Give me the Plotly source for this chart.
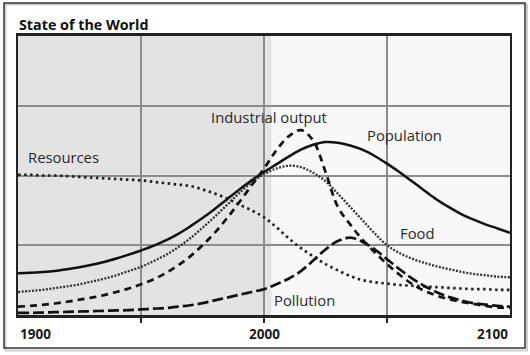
import plotly.graph_objects as go

years = list(range(1900, 2101, 5))

population = [0.60, 0.605, 0.615, 0.63, 0.655, 0.685, 0.72, 0.76, 0.81, 0.865,
              0.925, 0.99, 1.07, 1.16, 1.27, 1.39, 1.52, 1.66, 1.80, 1.93,
              2.05, 2.16, 2.27, 2.37, 2.44, 2.48, 2.47, 2.43, 2.37, 2.28,
              2.17, 2.05, 1.92, 1.79, 1.66, 1.55, 1.45, 1.37, 1.30, 1.24, 1.18]

food = [0.33, 0.345, 0.36, 0.385, 0.41, 0.44, 0.48, 0.52, 0.57, 0.63,
        0.69, 0.77, 0.86, 0.97, 1.10, 1.25, 1.41, 1.58, 1.75, 1.90,
        2.02, 2.10, 2.14, 2.12, 2.04, 1.92, 1.74, 1.55, 1.36, 1.17,
        1.00, 0.89, 0.81, 0.75, 0.70, 0.66, 0.62, 0.59, 0.57, 0.55, 0.54]

industrial = [0.12, 0.13, 0.145, 0.165, 0.19, 0.22, 0.25, 0.285, 0.33, 0.38,
              0.44, 0.51, 0.60, 0.71, 0.84, 1.00, 1.18, 1.39, 1.62, 1.86,
              2.10, 2.36, 2.56, 2.65, 2.50, 2.05, 1.55, 1.30, 1.08, 0.90,
              0.73, 0.58, 0.45, 0.35, 0.28, 0.23, 0.19, 0.16, 0.13, 0.11, 0.10]

resources = [2.01, 2.01, 2.00, 2.00, 1.99, 1.98, 1.97, 1.96, 1.95, 1.94,
             1.93, 1.91, 1.89, 1.87, 1.85, 1.80, 1.74, 1.67, 1.58, 1.50,
             1.40, 1.26, 1.10, 0.96, 0.84, 0.73, 0.64, 0.56, 0.50, 0.47,
             0.45, 0.43, 0.42, 0.41, 0.40, 0.39, 0.38, 0.37, 0.37, 0.36, 0.36]

pollution = [0.03, 0.03, 0.035, 0.04, 0.045, 0.05, 0.055, 0.06, 0.065, 0.07,
             0.08, 0.09, 0.10, 0.12, 0.14, 0.17, 0.21, 0.25, 0.29, 0.33,
             0.37, 0.44, 0.52, 0.63, 0.78, 0.94, 1.06, 1.11, 1.05, 0.94,
             0.80, 0.66, 0.53, 0.42, 0.33, 0.26, 0.21, 0.17, 0.15, 0.13, 0.12]

tick_labels = ["1900", "2000", "2100"]
tick_years = [1900, 2000, 2100]
grid_years = [1950, 2000, 2050]

labels = ["Resources", "Industrial output", "Population", "Food", "Pollution"]
label_years = [1918.5, 2002.0, 2057.3, 2062.4, 2016.5]
label_values = [2.27, 2.84, 2.58, 1.18, 0.215]

shade_end = 2003

FONT = "Open Sans"

fig = go.Figure()

series = [
    (population, dict(color="#111111", width=2.5, dash="solid")),
    (food, dict(color="#333333", width=2.3, dash="2px,1.5px")),
    (resources, dict(color="#222222", width=2.7, dash="2.5px,3.5px")),
    (industrial, dict(color="#111111", width=2.7, dash="7px,5px")),
    (pollution, dict(color="#111111", width=2.7, dash="11px,4px")),
]
for vals, ln in series:
    fig.add_trace(go.Scatter(x=years, y=vals, mode="lines",
                             line=dict(shape="spline", smoothing=1.0, **ln),
                             showlegend=False, hoverinfo="skip"))

# shaded historical region
fig.add_shape(type="rect", xref="x", yref="paper", x0=1900, x1=shade_end,
              y0=0, y1=1, fillcolor="#e3e3e3", line_width=0, layer="below")

# outer frame
L, T, PW, PH = 18, 36, 492, 279
def px(x):
    return (x - L) / PW
def py(y):
    return (T + PH - y) / PH
fig.add_shape(type="rect", xref="paper", yref="paper",
              x0=px(5.5), x1=px(527), y0=py(350.5), y1=py(4.5),
              line=dict(color="#cfcfcf", width=2), layer="below")
fig.add_shape(type="rect", xref="paper", yref="paper",
              x0=px(4), x1=px(525), y0=py(348), y1=py(3),
              line=dict(color="#333333", width=1.5), layer="below")

for name, xv, yv in zip(labels, label_years, label_values):
    fig.add_annotation(x=xv, y=yv, xref="x", yref="y", text=name,
                       showarrow=False, xanchor="center", yanchor="middle",
                       font=dict(family=FONT, size=14.8, color="#2a2a2a"))

anchors = ["left", "center", "right"]
for lab, xv, an in zip(tick_labels, tick_years, anchors):
    fig.add_annotation(x=xv, y=py(334), xref="x", yref="paper", text=f"<b>{lab}</b>",
                       showarrow=False, xanchor=an, yanchor="middle",
                       font=dict(family=FONT, size=13.5, color="#1a1a1a"))

fig.add_annotation(x=px(17), y=py(25), xref="paper", yref="paper",
                   text="<b>State of the World</b>", showarrow=False,
                   xanchor="left", yanchor="middle",
                   font=dict(family=FONT, size=14.3, color="#111111"))

fig.update_xaxes(range=[1900, 2100], tickvals=grid_years, showticklabels=False,
                 showgrid=True, gridcolor="#8c8c8c", gridwidth=1.5,
                 ticks="outside", ticklen=5, tickwidth=1.5, tickcolor="#222222",
                 showline=True, linecolor="#222222", linewidth=2.5, mirror=True,
                 zeroline=False, fixedrange=True)
fig.update_yaxes(range=[0, 4], tickvals=[1, 2, 3], showticklabels=False,
                 showgrid=True, gridcolor="#8c8c8c", gridwidth=1.5, ticks="",
                 showline=True, linecolor="#222222", linewidth=2, mirror=True,
                 zeroline=False, fixedrange=True)

fig.update_layout(width=530, height=355,
                  margin=dict(l=L, r=530 - L - PW, t=T, b=355 - T - PH),
                  paper_bgcolor="#ffffff", plot_bgcolor="#f8f8f8",
                  font=dict(family=FONT))

fig.write_html("out.html", config={"displayModeBar": False, "responsive": False},
               post_script="document.body.style.margin='0';document.body.style.overflow='hidden';")
